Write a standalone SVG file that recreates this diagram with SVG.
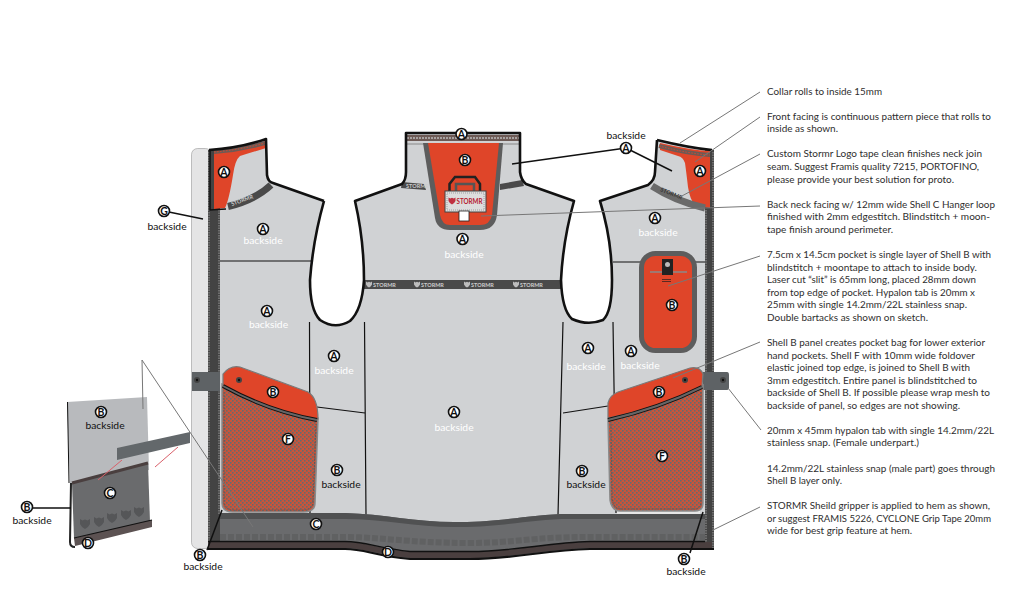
<svg xmlns="http://www.w3.org/2000/svg" xmlns:xlink="http://www.w3.org/1999/xlink" width="1009" height="605" viewBox="0 0 1009 605">
<style>
text{font-family:"Lato","Liberation Sans",sans-serif}
.n{font-size:10px;fill:#2e2e2e}
.w{font-size:10.3px;fill:#fff;text-anchor:middle}
.k{font-size:10.3px;fill:#111;text-anchor:middle}
.c{font-size:10.5px;fill:#111;text-anchor:middle;font-weight:700}
.m{fill:#fff;stroke:#111;stroke-width:1.6}
.ol{fill:none;stroke:#111;stroke-width:2.6;stroke-linejoin:round}
.se{fill:none;stroke:#111;stroke-width:1.2}
.le{fill:none;stroke:#777;stroke-width:1}
.bl{fill:none;stroke:#111;stroke-width:1.5}
.rd{fill:#df4529}
.tp{font-size:5.5px;fill:#ccc;font-weight:700}
.st{fill:none;stroke:#9a9a9a;stroke-width:1;stroke-dasharray:1.5 1}
.ms{fill:none;stroke:#555;stroke-width:.8;stroke-dasharray:2 1}
</style>
<defs>
<pattern id="mesh" width="4" height="4" patternUnits="userSpaceOnUse">
<rect width="4" height="4" fill="#c9543a"/>
<rect x="0" y="0" width="1.600" height="1.600" fill="#666a6c"/>
<rect x="2" y="2" width="1.600" height="1.600" fill="#666a6c"/>
</pattern>
<path id="sh" d="M-5,-5 L-2.500,-3.500 L0,-4.500 L2.500,-3.500 L5,-5 L5,0 Q3,4 0,5 Q-3,4 -5,0 Z"/>
<g id="snap"><circle r="3" fill="#444"/><circle r="1.200" fill="#111"/></g>
</defs>

<g id="side-strip-G"><rect x="191.500" y="148.500" width="20" height="400" rx="6" fill="#e4e4e5" stroke="#999" stroke-width=".6"/></g>

<g id="body">
<path d="M208,150 Q240,148 266,139 L267,175 Q268,182 273,183 L324,201 Q313,240 310,280 Q310,310 320,320 Q335,330 350,321 Q362,310 364,280 Q364,240 355,201 L402,184 Q406,180 406,172 L406,133 L520,133 L520,172 Q521,180 526,184 L574,201 Q563,240 561,280 Q562,310 572,319 Q588,326 603,320 Q612,312 612,280 Q612,240 600,201 L648,185 Q655,180 655,172 L657,140 Q690,148 712,150 L712,548 L208,548 Z" fill="#d0d2d4"/>
<path class="se" d="M220,261 H311 M309.500,322 L310,513 M364.500,322 L366,515 M563,322 L558,515 M613,322 L616,513 M613,262 H705 M317,407 L365,413 M563,413 L608,406"/>
</g>

<g id="spines">
<rect x="208" y="150" width="12" height="400" fill="#434343"/>
<rect x="705" y="150" width="9" height="400" fill="#434343"/>
<path class="st" d="M209,152 V548 M219,210 V515 M706,210 V548 M713,152 V548"/>
</g>

<g id="logo-tape">
<rect x="364" y="280" width="197" height="9" fill="#4a4a4a"/>
<g fill="#bdbdbd">
<use xlink:href="#sh" href="#sh" transform="translate(369,284.500) scale(.6)"/><text class="tp" x="373" y="287">STORMR</text>
<use xlink:href="#sh" href="#sh" transform="translate(417,284.500) scale(.6)"/><text class="tp" x="421" y="287">STORMR</text>
<use xlink:href="#sh" href="#sh" transform="translate(467,284.500) scale(.6)"/><text class="tp" x="471" y="287">STORMR</text>
<use xlink:href="#sh" href="#sh" transform="translate(516,284.500) scale(.6)"/><text class="tp" x="520" y="287">STORMR</text>
</g>
</g>

<g id="collar-left">
<path class="rd" d="M214,150 Q240,148 266,141 L266,148 Q250,153 240,156 Q235,160 233,175 Q229,200 225,208 L214,209 Z"/>
<path d="M214,152 Q240,150 265,143" fill="none" stroke="#6d5a55" stroke-width="4"/>
<path d="M214,152 Q240,150 265,143" fill="none" stroke="#df4529" stroke-width="1" stroke-dasharray="1.500 1.500"/>
<path d="M228,206.500 Q255,200 271,185" fill="none" stroke="#4a4a4a" stroke-width="7"/>
<text class="tp" x="232" y="206" transform="rotate(-20 232 206)">STORMR</text>
<path d="M210,150 V210 L226,209" fill="none" stroke="#111" stroke-width="1.500"/>
</g>

<g id="collar-right">
<path class="rd" d="M660,143 Q690,150 710,151 L710,208 L695,205 Q690,200 688,187 Q686,170 685,163 Q683,157 678,156 L660,150 Z"/>
<path d="M659,146 Q690,154 710,155" fill="none" stroke="#6d5a55" stroke-width="4"/>
<path d="M659,146 Q690,154 710,155" fill="none" stroke="#df4529" stroke-width="1" stroke-dasharray="1.500 1.500"/>
<path d="M652,186 Q675,201 705,208" fill="none" stroke="#6a6a6a" stroke-width="7"/>
<text class="tp" x="660" y="191" transform="rotate(22 660 191)" style="fill:#333">STORMR</text>
</g>

<g id="collar-back">
<rect x="407" y="135" width="112" height="6" fill="#6d5a55"/>
<path d="M407,138 H519" fill="none" stroke="#bbb" stroke-width="1.500" stroke-dasharray="2 1"/>
<path d="M406,144 H520" stroke="#888" stroke-width="1"/>
<path d="M402,182 L424,184 L426,190 L401,188 Z" fill="#4a4a4a"/>
<text class="tp" x="406" y="188">STORMR</text>
<path d="M500,184 L522,180 L524,186 L500,190 Z" fill="#4a4a4a"/>
</g>

<g id="body-outline">
<path class="ol" d="M324,201 Q313,240 310,280 Q310,310 320,320 Q335,330 350,321 Q362,310 364,280 Q364,240 355,201 L402,184 Q406,180 406,172 L406,133 L520,133 L520,172 Q521,180 526,184 L574,201 Q563,240 561,280 Q562,310 572,319 Q588,326 603,320 Q612,312 612,280 Q612,240 600,201 L648,185 Q655,180 655,172 L657,140"/>
<path class="ol" d="M209,150 Q240,148 266,139 L267,175 Q268,182 273,183 L324,201"/>
<path class="ol" d="M657,140 Q690,148 712,150"/>
</g>

<g id="back-neck-facing">
<path d="M423,143 H503 L497,215 Q495,230 480,230 H450 Q437,230 435,218 Z" fill="#5d5d5d"/>
<path class="rd" d="M428,143 H499 L492,215 Q490,225 480,225 H450 Q442,225 440,215 Z"/>
<path d="M449.500,193 V184 L455,177 H475 L480,184 V193" fill="none" stroke="#222" stroke-width="2.500"/>
<path d="M456,193 V184 H474 V193" fill="none" stroke="#555" stroke-width="2.500"/>
<rect x="445" y="191" width="41" height="21" fill="#ddd" stroke="#444" stroke-width="1"/>
<rect x="447" y="193" width="37" height="17" fill="none" stroke="#777" stroke-width=".6" stroke-dasharray="1 1"/>
<use xlink:href="#sh" href="#sh" transform="translate(452,201) scale(.7)" fill="#c03040"/>
<text x="456.500" y="204" font-size="7" font-weight="700" fill="#b5202f" textLength="26" lengthAdjust="spacingAndGlyphs">STORMR</text>
<rect x="459" y="211" width="10" height="10" fill="#fff" stroke="#222" stroke-width=".8"/>
</g>

<g id="pocket-upper">
<rect x="641.500" y="253.500" width="53" height="97" rx="14" class="rd" stroke="#5d5d5d" stroke-width="5"/>
<path d="M650,272 H687" stroke="#8a8a8a" stroke-width="1.500"/>
<path d="M662,259 H673 V275 H662 Z" fill="#222"/>
<circle cx="667.500" cy="264.500" r="2.500" fill="#bbb"/>
<path d="M662,279.500 H671 M662,281.500 H671" stroke="#5b2a22" stroke-width="1"/>
</g>

<g id="hem">
<path d="M220,513 H345 C385,514 420,523 460,522 C505,522 530,514 570,514 H705 V548 L590,549 C545,550 515,559 470,559 L410,559 C375,556 365,549 345,549 L220,549 Z" fill="#6a6b6d"/>
<path d="M220,513 H345 C385,514 420,523 460,522 C505,522 530,514 570,514 H705 V519 H570 C530,519 505,527 460,527 C420,528 385,519 345,519 H220 Z" fill="#505152"/>
<path d="M220,537 H345 C380,537 410,543 470,543 C515,543 530,537 590,537 H705" fill="none" stroke="#606162" stroke-width="6" stroke-dasharray="6 2"/>
<path d="M208,545 H345 C365,545 378,552 410,555 L470,555 C515,555 545,546 590,545 H712" fill="none" stroke="#4a3f3f" stroke-width="6"/>
<path d="M208,541.500 H345 C365,541.500 378,548 410,551.500 L470,551.500 C515,551.500 545,543 590,541.500 H705" fill="none" stroke="#111" stroke-width="1.400"/>
<path d="M208,549 H345 C365,549 375,556 410,559 L470,559 C515,559 545,550 590,549 H714" fill="none" stroke="#111" stroke-width="2.200"/>
</g>

<g id="tabs">
<rect x="192" y="372" width="28" height="19" fill="#5e6265"/>
<use xlink:href="#snap" href="#snap" x="197" y="380"/>
<path d="M703,372 H727 Q729,372 729,375 V388 Q729,390 726,390 H703 Z" fill="#5e6265"/>
<use xlink:href="#snap" href="#snap" x="723" y="380"/>
</g>

<g id="pocket-left">
<path d="M222,384 V503 Q222,512 233,512 H303 Q315,512 315,503 L318,418 Z" fill="url(#mesh)" stroke="#8a8a8a" stroke-width="1.500"/>
<path class="ms" d="M224,392 V502 Q224,510 234,510 H302 Q313,510 313,502 L316,424"/>
<path class="rd" d="M223,386 V374 Q230,365 240,367 L308,392 Q318,398 318,419 Q268,411 223,386 Z" stroke="#7a7a7a" stroke-width="1.200"/>
<path d="M223,386 Q268,411 317,420" fill="none" stroke="#111" stroke-width="4"/>
<path d="M223,386 Q268,411 317,420" fill="none" stroke="#666" stroke-width="2"/>
<use xlink:href="#snap" href="#snap" x="239" y="380"/>
</g>

<g id="pocket-right">
<rect x="617" y="505" width="83" height="9" fill="#e6e6e6"/>
<path d="M608,420 L610,500 Q612,511 620,511 H695 Q703,511 703,503 L703,385 Z" fill="url(#mesh)" stroke="#8a8a8a" stroke-width="1.500"/>
<path class="ms" d="M611,424 L612,499 Q614,509 621,509 H694 Q701,509 701,502 V392"/>
<path class="rd" d="M608,418 V403 Q610,395 618,392 L690,368 Q700,366 703,374 L702,386 Q660,408 608,418 Z" stroke="#7a7a7a" stroke-width="1.200"/>
<path d="M608,420 Q660,408 702,387" fill="none" stroke="#111" stroke-width="4"/>
<path d="M608,420 Q660,408 702,387" fill="none" stroke="#666" stroke-width="2"/>
<use xlink:href="#snap" href="#snap" x="685" y="380"/>
</g>

<g id="detail-inset">
<path d="M67,402 L147,397 L149,470 L70,485 Z" fill="#b8babd"/>
<path d="M67.500,402 L69,483" fill="none" stroke="#111" stroke-width="1"/>
<path d="M72,483 L148,463 L150,522 L74,538 Z" fill="#6a6b6d"/>
<path d="M72,483 L148,463" stroke="#4a3f3f" stroke-width="3"/>
<path d="M74,538 L152,520 L152,527 L75,546 Z" fill="#5c5252"/>
<path d="M74,538 L152,520" stroke="#111" stroke-width="1.200"/>
<path d="M71,483 L70,542 Q70,547 75,547" fill="none" stroke="#222" stroke-width="2"/>
<g fill="#555658">
<use xlink:href="#sh" href="#sh" x="85" y="524"/>
<use xlink:href="#sh" href="#sh" x="99" y="522"/>
<use xlink:href="#sh" href="#sh" x="112" y="518"/>
<use xlink:href="#sh" href="#sh" x="126" y="515"/>
<use xlink:href="#sh" href="#sh" x="139" y="512"/>
</g>
<path d="M117,448 L190,432 V443 L117,460 Z" fill="#63686b"/>
<path d="M122,460 L98,480 M178,447 L155,467" fill="none" stroke="#d9606a" stroke-width="1"/>
</g>

<g id="connectors">
<path class="le" d="M680,143 L760,92 M695,162 L760,117 M680,197 L760,154 M481,216 L760,206 M668,286 L760,256 M673,378 L760,342 M728,388 L761,430 M713,530 L760,507 M142,360 L143,409 M142,360 L253,527"/>
<path class="bl" d="M626,148 L512,164 M626,148 L672,171 M164,211 L203,219 M27,508 H71 M207,550 L222,510 M690,553 L703,512"/>
</g>

<g id="markers">
<g id="m1"><circle class="m" cx="461.500" cy="134" r="5.500"/><text class="c" x="461.500" y="137.700">A</text></g>
<g id="m2"><circle class="m" cx="465" cy="160" r="5.500"/><text class="c" x="465" y="163.700">B</text></g>
<g id="m3"><circle class="m" cx="462.500" cy="239" r="5.500"/><text class="c" x="462.500" y="242.700">A</text><text class="w" x="464" y="258">backside</text></g>
<g id="m4"><circle class="m" cx="626" cy="148" r="5.500"/><text class="c" x="626" y="151.700">A</text><text class="k" x="626" y="139">backside</text></g>
<g id="m5"><circle class="m" cx="224" cy="172" r="5.500"/><text class="c" x="224" y="175.700">A</text></g>
<g id="m6"><circle class="m" cx="700" cy="171" r="5.500"/><text class="c" x="700" y="174.700">A</text></g>
<g id="m7"><circle class="m" cx="263" cy="229" r="5.500"/><text class="c" x="263" y="232.700">A</text><text class="w" x="263" y="244">backside</text></g>
<g id="m8"><circle class="m" cx="267" cy="311" r="5.500"/><text class="c" x="267" y="314.700">A</text><text class="w" x="268.500" y="328">backside</text></g>
<g id="m9"><circle class="m" cx="334" cy="356" r="5.500"/><text class="c" x="334" y="359.700">A</text><text class="w" x="334" y="374">backside</text></g>
<g id="m10"><circle class="m" cx="337" cy="470" r="5.500"/><text class="c" x="337" y="473.700">B</text><text class="k" x="341" y="488">backside</text></g>
<g id="m11"><circle class="m" cx="454" cy="412" r="5.500"/><text class="c" x="454" y="415.700">A</text><text class="w" x="454" y="431">backside</text></g>
<g id="m12"><circle class="m" cx="316" cy="524" r="5.500"/><text class="c" x="316" y="527.700">C</text></g>
<g id="m13"><circle class="m" cx="388" cy="552" r="5.500"/><text class="c" x="388" y="555.700">D</text></g>
<g id="m14"><circle class="m" cx="655" cy="218" r="5.500"/><text class="c" x="655" y="221.700">A</text><text class="w" x="658" y="236">backside</text></g>
<g id="m15"><circle class="m" cx="588" cy="348" r="5.500"/><text class="c" x="588" y="351.700">A</text><text class="w" x="586" y="370">backside</text></g>
<g id="m16"><circle class="m" cx="631" cy="351" r="5.500"/><text class="c" x="631" y="354.700">A</text><text class="w" x="640" y="369">backside</text></g>
<g id="m17"><circle class="m" cx="582" cy="471" r="5.500"/><text class="c" x="582" y="474.700">B</text><text class="k" x="586" y="488">backside</text></g>
<g id="m18"><circle class="m" cx="672" cy="305" r="5.500"/><text class="c" x="672" y="308.700">B</text></g>
<g id="m19"><circle class="m" cx="659" cy="392" r="5.500"/><text class="c" x="659" y="395.700">B</text></g>
<g id="m20"><circle class="m" cx="662" cy="456" r="5.500"/><text class="c" x="662" y="459.700">F</text></g>
<g id="m21"><circle class="m" cx="273" cy="392" r="5.500"/><text class="c" x="273" y="395.700">B</text></g>
<g id="m22"><circle class="m" cx="288" cy="439" r="5.500"/><text class="c" x="288" y="442.700">F</text></g>
<g id="m23"><circle class="m" cx="164" cy="211" r="5.500"/><text class="c" x="164" y="214.700">G</text><text class="k" x="167" y="230">backside</text></g>
<g id="m24"><circle class="m" cx="101" cy="412" r="5.500"/><text class="c" x="101" y="415.700">B</text><text class="k" x="105" y="429">backside</text></g>
<g id="m25"><circle class="m" cx="110" cy="493" r="5.500"/><text class="c" x="110" y="496.700">C</text></g>
<g id="m26"><circle class="m" cx="27" cy="507" r="5.500"/><text class="c" x="27" y="510.700">B</text><text class="k" x="32" y="524">backside</text></g>
<g id="m27"><circle class="m" cx="88" cy="543" r="5.500"/><text class="c" x="88" y="546.700">D</text></g>
<g id="m28"><circle class="m" cx="200" cy="555" r="5.500"/><text class="c" x="200" y="558.700">B</text><text class="k" x="203" y="570">backside</text></g>
<g id="m29"><circle class="m" cx="684" cy="559" r="5.500"/><text class="c" x="684" y="562.700">B</text><text class="k" x="686" y="575">backside</text></g>
</g>

<g id="notes">
<text class="n" x="767" y="95" textLength="115" lengthAdjust="spacingAndGlyphs">Collar rolls to inside 15mm</text>
<text class="n" x="767" y="120" textLength="224" lengthAdjust="spacingAndGlyphs">Front facing is continuous pattern piece that rolls to</text>
<text class="n" x="767" y="132" textLength="71" lengthAdjust="spacingAndGlyphs">inside as shown.</text>
<text class="n" x="767" y="157" textLength="215" lengthAdjust="spacingAndGlyphs">Custom Stormr Logo tape clean finishes neck join</text>
<text class="n" x="767" y="170" textLength="212" lengthAdjust="spacingAndGlyphs">seam.  Suggest Framis quality 7215, PORTOFINO,</text>
<text class="n" x="767" y="182.500" textLength="187" lengthAdjust="spacingAndGlyphs">please provide your best solution for proto.</text>
<text class="n" x="767" y="208" textLength="228" lengthAdjust="spacingAndGlyphs">Back neck facing w/ 12mm wide Shell C Hanger loop</text>
<text class="n" x="767" y="220" textLength="223" lengthAdjust="spacingAndGlyphs">finished with 2mm edgestitch.  Blindstitch + moon-</text>
<text class="n" x="767" y="232.500" textLength="126" lengthAdjust="spacingAndGlyphs">tape finish around perimeter.</text>
<text class="n" x="767" y="258" textLength="224" lengthAdjust="spacingAndGlyphs">7.5cm x 14.5cm pocket is single layer of Shell B with</text>
<text class="n" x="767" y="270.500" textLength="210" lengthAdjust="spacingAndGlyphs">blindstitch + moontape to attach to inside body.</text>
<text class="n" x="767" y="283" textLength="209" lengthAdjust="spacingAndGlyphs">Laser cut “slit” is 65mm long, placed 28mm down</text>
<text class="n" x="767" y="295.500" textLength="208" lengthAdjust="spacingAndGlyphs">from top edge of pocket.  Hypalon tab is 20mm x</text>
<text class="n" x="767" y="308" textLength="200" lengthAdjust="spacingAndGlyphs">25mm with single 14.2mm/22L stainless snap.</text>
<text class="n" x="767" y="320.500" textLength="161" lengthAdjust="spacingAndGlyphs">Double bartacks as shown on sketch.</text>
<text class="n" x="767" y="346" textLength="218" lengthAdjust="spacingAndGlyphs">Shell B panel creates pocket bag for lower exterior</text>
<text class="n" x="767" y="358.500" textLength="208" lengthAdjust="spacingAndGlyphs">hand pockets.  Shell F with 10mm wide foldover</text>
<text class="n" x="767" y="371" textLength="203" lengthAdjust="spacingAndGlyphs">elastic joined top edge, is joined to Shell B with</text>
<text class="n" x="767" y="383.500" textLength="210" lengthAdjust="spacingAndGlyphs">3mm edgestitch.  Entire panel is blindstitched to</text>
<text class="n" x="767" y="396" textLength="223" lengthAdjust="spacingAndGlyphs">backside of Shell B.  If possible please wrap mesh to</text>
<text class="n" x="767" y="408.500" textLength="193" lengthAdjust="spacingAndGlyphs">backside of panel, so edges are not showing.</text>
<text class="n" x="767" y="433.500" textLength="227" lengthAdjust="spacingAndGlyphs">20mm x 45mm hypalon tab with single 14.2mm/22L</text>
<text class="n" x="767" y="446" textLength="152" lengthAdjust="spacingAndGlyphs">stainless snap.  (Female underpart.)</text>
<text class="n" x="767" y="471.500" textLength="228" lengthAdjust="spacingAndGlyphs">14.2mm/22L stainless snap (male part) goes through</text>
<text class="n" x="767" y="484" textLength="75" lengthAdjust="spacingAndGlyphs">Shell B layer only.</text>
<text class="n" x="767" y="509" textLength="223" lengthAdjust="spacingAndGlyphs">STORMR Sheild gripper is applied to hem as shown,</text>
<text class="n" x="767" y="521.500" textLength="224" lengthAdjust="spacingAndGlyphs">or suggest FRAMIS 5226, CYCLONE Grip Tape 20mm</text>
<text class="n" x="767" y="534" textLength="145" lengthAdjust="spacingAndGlyphs">wide for best grip feature at hem.</text>
</g>
</svg>
